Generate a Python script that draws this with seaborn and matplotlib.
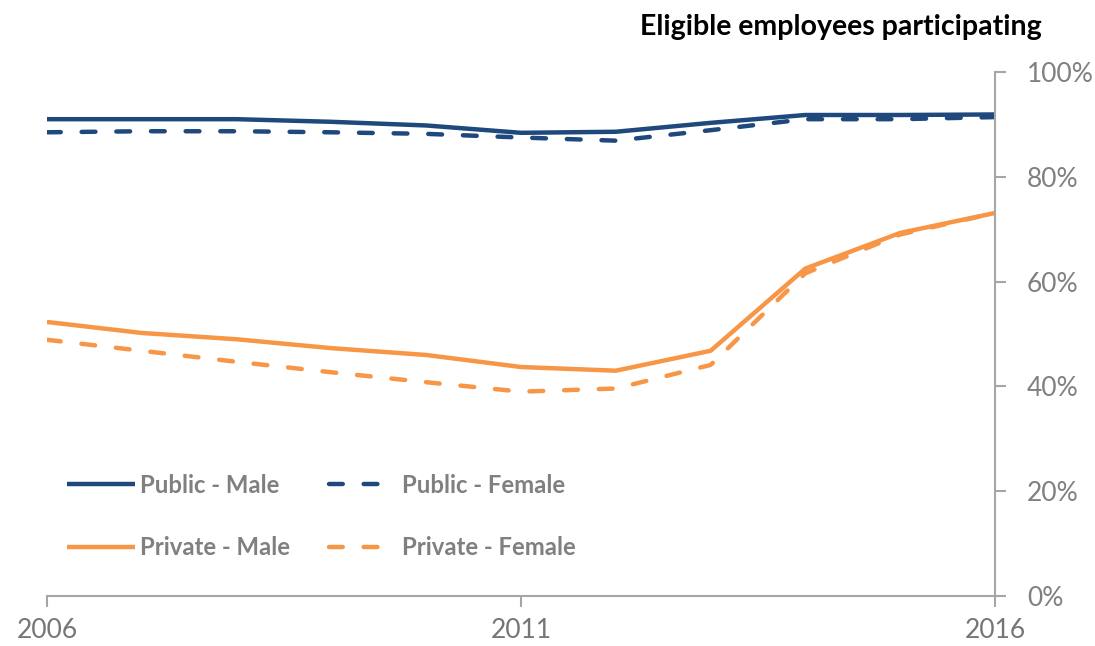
import numpy as np
import pandas as pd
import matplotlib
matplotlib.use("Agg")
import matplotlib.pyplot as plt
import seaborn as sns

# =====================================================
# Data (share of eligible employees participating, %)
# =====================================================
years = [2006, 2007, 2008, 2009, 2010, 2011, 2012, 2013, 2014, 2015, 2016]
public_male = [91.0, 91.0, 91.0, 90.5, 89.8, 88.4, 88.6, 90.3, 91.8, 91.8, 91.9]
public_female = [88.5, 88.7, 88.7, 88.5, 88.2, 87.5, 86.9, 88.9, 91.0, 91.0, 91.4]
private_male = [52.3, 50.2, 49.0, 47.3, 46.0, 43.7, 43.0, 46.8, 62.5, 69.3, 73.1]
private_female = [48.9, 46.8, 44.7, 42.7, 40.8, 39.0, 39.6, 44.1, 61.6, 69.0, 73.1]

series_names = ["Public - Male", "Public - Female", "Private - Male", "Private - Female"]

NAVY = "#1F497D"
ORANGE = "#F79646"
GREY = "#808080"
AXIS_GREY = "#A6A6A6"

df = pd.DataFrame({
    "year": years * 4,
    "value": public_male + public_female + private_male + private_female,
    "series": np.repeat(series_names, len(years)),
})

palette = {"Public - Male": NAVY, "Public - Female": NAVY,
           "Private - Male": ORANGE, "Private - Female": ORANGE}
dash_pat = (3.1, 4.7)
dashes = {"Public - Male": "", "Public - Female": dash_pat,
          "Private - Male": "", "Private - Female": dash_pat}

# =====================================================
# Plot
# =====================================================
sns.set_style("white")
plt.rcParams["font.family"] = ["Lato", "DejaVu Sans"]

fig = plt.figure(figsize=(10.95, 6.46), dpi=100)
ax = fig.add_axes([0.0429, 0.0774, 0.8658, 0.8111])

sns.lineplot(data=df, x="year", y="value", hue="series", style="series",
             hue_order=series_names, style_order=series_names,
             palette=palette, dashes=dashes, linewidth=3.2, ax=ax,
             legend=True)
for line in ax.get_lines():
    line.set_dash_capstyle("round")
    line.set_solid_capstyle("butt")

ax.set_xlim(2006, 2016)
ax.set_ylim(0, 100)
ax.set_xticks([2006, 2011, 2016])
ax.set_yticks([0, 20, 40, 60, 80, 100])
ax.set_yticklabels([f"{v}%" for v in [0, 20, 40, 60, 80, 100]])
ax.set_xlabel("")
ax.set_ylabel("")

ax.yaxis.tick_right()
for side in ["left", "top"]:
    ax.spines[side].set_visible(False)
for side in ["right", "bottom"]:
    ax.spines[side].set_color(AXIS_GREY)
    ax.spines[side].set_linewidth(1.5)

ax.tick_params(axis="y", which="major", right=True, left=False, length=8,
               width=1.5, color=AXIS_GREY, labelsize=19, labelcolor=GREY,
               pad=15, direction="out")
ax.tick_params(axis="x", which="major", bottom=True, length=8, width=1.5,
               color=AXIS_GREY, labelsize=19, labelcolor="#767676", pad=8,
               direction="out")

# legend filled row by row: Public on top, Private below
handles, labels = ax.get_legend_handles_labels()
lookup = dict(zip(labels, handles))
order = ["Public - Male", "Private - Male", "Public - Female", "Private - Female"]
leg = ax.legend([lookup[k] for k in order], order,
                loc="center left", bbox_to_anchor=(0.021, 0.152), ncol=2,
                frameon=False, handlelength=2.84, handletextpad=0.2,
                columnspacing=1.65, labelspacing=1.65, borderpad=0,
                borderaxespad=0, prop={"size": 17.2, "weight": "bold"})
for text in leg.get_texts():
    text.set_color(GREY)
for h in leg.get_lines():
    h.set_linewidth(3.2)

fig.text(0.951, 0.958, "Eligible employees participating", ha="right",
         va="center", fontsize=20.5, fontweight="bold", color="black")

plt.savefig("out.png", dpi=100)
